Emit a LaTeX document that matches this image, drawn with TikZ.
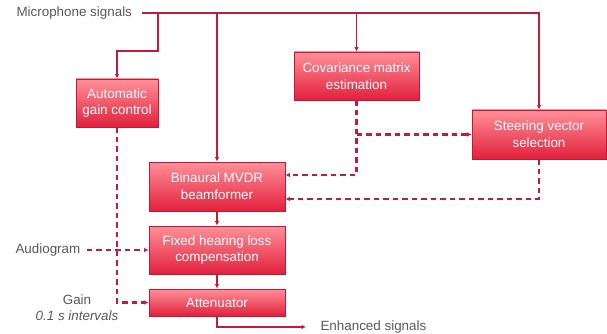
\documentclass[tikz,border=0pt]{standalone}
\usepackage{fontspec}
\setmainfont{Liberation Sans}
\usetikzlibrary{arrows.meta}
\definecolor{boxtop}{HTML}{FF9099}
\definecolor{boxbottom}{HTML}{E2203C}
\definecolor{boxedge}{HTML}{C81636}
\definecolor{wire}{HTML}{C41A3E}
\definecolor{labelgray}{HTML}{595959}
\tikzstyle{block}=[draw=boxedge, line width=0.8pt, top color=boxtop, bottom color=boxbottom, text=white, align=center, font=\fontsize{13.4}{16.6}\selectfont, inner sep=0]
\tikzstyle{label}=[text=labelgray, align=center, font=\fontsize{13.4}{16.2}\selectfont]
\tikzstyle{signal}=[draw=wire, line width=1.4pt, -{Latex[length=4.5pt,width=4.5pt]}]
\tikzstyle{control}=[signal, line width=2.2pt, dash pattern=on 5.5pt off 4pt]

\begin{document}
\begin{tikzpicture}[x=1pt, y=-1pt]
      \useasboundingbox (0, 0) rectangle (607, 334);

      \node[block, minimum width=82pt, minimum height=48pt] (agc) at (117, 103) {Automatic\\gain control};
      \node[block, minimum width=125pt, minimum height=48pt] (cov) at (356.5, 76) {Covariance matrix\\estimation};
      \node[block, minimum width=134pt, minimum height=49pt] (steer) at (539, 134.5) {Steering vector\\selection};
      \node[block, minimum width=136pt, minimum height=49pt] (mvdr) at (217, 186.5) {Binaural MVDR\\beamformer};
      \node[block, minimum width=136pt, minimum height=48pt] (hlc) at (217, 250) {Fixed hearing loss\\compensation};
      \node[block, minimum width=136pt, minimum height=27pt] (att) at (217, 302.5) {Attenuator};

      \node[label, anchor=west] (mic) at (13, 13) {Microphone signals};
      \node[label, anchor=west] (audiogram) at (12, 250) {Audiogram};
      \node[label] (gain) at (77, 308) {Gain\\\textit{0.1 s intervals}};
      \node[label, anchor=west] (enhanced) at (317, 327) {Enhanced signals};

      \coordinate (mic_start) at (142, 13);
      \coordinate (agc_bend) at (158, 51);

      \draw[signal] (mic_start) -| (steer.north);
      \draw[signal] (agc_bend |- mic_start) -- (agc_bend) -| (agc.north);
      \draw[signal] (mvdr.north |- mic_start) -- (mvdr.north);
      \draw[signal] (cov.north |- mic_start) -- (cov.north);

      \draw[control] (cov.south) |- ([yshift=11.5pt]mvdr.east);
      \draw[control] (cov.south |- steer.west) -- (steer.west);
      \draw[control] (steer.south) |- ([yshift=-12.5pt]mvdr.east);
      \draw[control] (agc.south) |- (att.west);
      \draw[control] ([xshift=3pt]audiogram.east) -- (hlc.west);

      \draw[signal] (mvdr.south) -- (hlc.north);
      \draw[signal] (hlc.south) -- (att.north);
      \draw[signal] (att.south) |- ([xshift=-11pt]enhanced.west);
    \end{tikzpicture}
\end{document}
